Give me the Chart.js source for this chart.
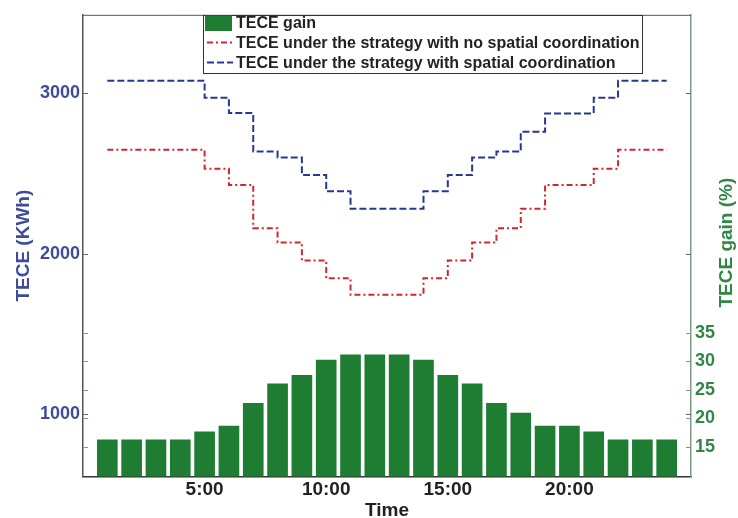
<!DOCTYPE html>
<html>
<head>
<meta charset="utf-8">
<title>TECE</title>
<script src="https://cdn.jsdelivr.net/npm/chart.js@4.4.1/dist/chart.umd.min.js"></script>
<style>
  html, body { margin: 0; padding: 0; background: #fff; }
  #wrap { width: 738px; height: 518px; position: relative; }
</style>
</head>
<body>
<div id="wrap"><canvas id="teceChart"></canvas></div>
<script>
// values (hour of day 1..24)
const hours = [1, 2, 3, 4, 5, 6, 7, 8, 9, 10, 11, 12, 13, 14, 15, 16, 17, 18, 19, 20, 21, 22, 23, 24];
const gainPct = [16.3, 16.3, 16.3, 16.3, 17.7, 18.7, 22.7, 26.1, 27.6, 30.3, 31.2, 31.2,
                 31.2, 30.3, 27.6, 26.1, 22.7, 21.0, 18.7, 18.7, 17.7, 16.3, 16.3, 16.3];
const teceNoCoord = [2648, 2648, 2648, 2648, 2530, 2429, 2158, 2070, 1957, 1846, 1744, 1744,
                     1744, 1846, 1957, 2070, 2158, 2280, 2429, 2429, 2530, 2648, 2648, 2648];
const teceCoord = [3078, 3078, 3078, 3078, 2973, 2878, 2637, 2600, 2490, 2390, 2280, 2280,
                   2280, 2390, 2490, 2600, 2637, 2760, 2875, 2875, 2973, 3078, 3078, 3078];
const timeTicks = [5, 10, 15, 20];
const kwhTicks = [1000, 2000, 3000];
const gainTicks = [15, 20, 25, 30, 35];

const FONT = "'Liberation Sans', Arial, sans-serif";
const BLUE_TXT = '#3e4c9b';
const GREEN_TXT = '#328746';

const toPoints = vals => hours.map((h, i) => ({ x: h, y: vals[i] }));

// frame, inward ticks, right title and the boxed legend (MATLAB look)
const matlabDecor = {
    id: 'matlabDecor',
    afterDraw(chart) {
        const { ctx, chartArea: a, scales } = chart;
        ctx.save();

        // top edge of the box
        ctx.strokeStyle = '#555';
        ctx.lineWidth = 1;
        ctx.beginPath();
        ctx.moveTo(a.left, a.top + 0.5);
        ctx.lineTo(a.right, a.top + 0.5);
        ctx.stroke();

        // inward ticks, both sides, for both y scales
        const tickLen = 5;
        const drawTicks = (scale, values, color) => {
            ctx.strokeStyle = color;
            values.forEach(v => {
                const y = Math.round(scale.getPixelForValue(v)) + 0.5;
                ctx.beginPath();
                ctx.moveTo(a.left, y); ctx.lineTo(a.left + tickLen, y);
                ctx.moveTo(a.right, y); ctx.lineTo(a.right - tickLen, y);
                ctx.stroke();
            });
        };
        drawTicks(scales.y, kwhTicks, '#666');
        drawTicks(scales.y1, gainTicks, '#7c9a86');

        // right axis title, reading bottom-to-top like the left one
        ctx.fillStyle = GREEN_TXT;
        ctx.font = 'bold 19px ' + FONT;
        ctx.textAlign = 'center';
        ctx.textBaseline = 'middle';
        ctx.translate(727, (a.top + a.bottom) / 2 - 3);
        ctx.rotate(-Math.PI / 2);
        ctx.fillText('TECE gain (%)', 0, 0);
        ctx.setTransform(1, 0, 0, 1, 0, 0);

        // legend box
        const bx1 = 203, bx2 = 642, by1 = Math.round(a.top), by2 = 73;
        ctx.fillStyle = '#fff';
        ctx.fillRect(bx1, by1, bx2 - bx1, by2 - by1);
        ctx.strokeStyle = '#333';
        ctx.strokeRect(bx1 + 0.5, by1 + 0.5, bx2 - bx1, by2 - by1);

        const rows = [23, 42.5, 62.5];
        ctx.textAlign = 'left';
        ctx.font = 'bold 16px ' + FONT;
        chart.data.datasets.forEach((ds, i) => {
            const y = rows[i];
            if (ds.type === 'line') {
                ctx.strokeStyle = ds.borderColor;
                ctx.lineWidth = 2;
                ctx.setLineDash(ds.borderDash);
                ctx.beginPath();
                ctx.moveTo(207, y); ctx.lineTo(233, y);
                ctx.stroke();
                ctx.setLineDash([]);
            } else {
                ctx.fillStyle = ds.backgroundColor;
                ctx.fillRect(205, y - 7.5, 27, 15.5);
            }
            ctx.fillStyle = '#222';
            ctx.fillText(ds.label, 236, y + 1);
        });
        ctx.restore();
    }
};

new Chart(document.getElementById('teceChart'), {
    type: 'bar',
    data: {
        datasets: [{
            label: 'TECE gain',
            data: toPoints(gainPct),
            yAxisID: 'y1',
            backgroundColor: '#1f7d33',
            borderWidth: 0,
            barPercentage: 0.85,
            categoryPercentage: 1.0
        }, {
            type: 'line',
            label: 'TECE under the strategy with no spatial coordination',
            data: toPoints(teceNoCoord),
            yAxisID: 'y',
            borderColor: '#d0262e',
            borderWidth: 2,
            borderDash: [6, 3, 2, 3],
            stepped: true,
            pointRadius: 0,
            fill: false
        }, {
            type: 'line',
            label: 'TECE under the strategy with spatial coordination',
            data: toPoints(teceCoord),
            yAxisID: 'y',
            borderColor: '#283891',
            borderWidth: 2,
            borderDash: [7, 3],
            stepped: true,
            pointRadius: 0,
            fill: false
        }]
    },
    options: {
        responsive: true,
        maintainAspectRatio: false,
        animation: false,
        layout: { padding: { top: 10, left: 0, right: 0, bottom: 0 } },
        plugins: {
            legend: { display: false },
            tooltip: { enabled: false }
        },
        scales: {
            x: {
                type: 'linear',
                offset: false,
                min: 0,
                max: 25,
                afterBuildTicks: s => { s.ticks = timeTicks.map(v => ({ value: v })); },
                afterFit: s => { s.height = 41.5; },
                grid: { display: false, drawTicks: false },
                border: { display: true, color: '#333', width: 1.5 },
                ticks: {
                    padding: 2,
                    maxRotation: 0,
                    color: '#222',
                    font: { family: FONT, size: 19, weight: 'bold' },
                    callback: v => v + ':00'
                },
                title: {
                    display: true,
                    text: 'Time',
                    color: '#222',
                    font: { family: FONT, size: 19, weight: 'bold' },
                    padding: { top: 0, bottom: -4 }
                }
            },
            y: {
                position: 'left',
                min: 610,
                max: 3490,
                afterBuildTicks: s => { s.ticks = kwhTicks.map(v => ({ value: v })); },
                afterFit: s => { s.width = 83; },
                grid: { display: false, drawTicks: false },
                border: { display: true, color: '#555', width: 1.5 },
                ticks: {
                    padding: 3,
                    color: BLUE_TXT,
                    font: { family: FONT, size: 18, weight: 'bold' },
                    callback: v => String(v)
                },
                title: {
                    display: true,
                    text: 'TECE (KWh)',
                    color: BLUE_TXT,
                    font: { family: FONT, size: 19, weight: 'bold' },
                    padding: { top: 12, bottom: 0 }
                }
            },
            y1: {
                position: 'right',
                min: 9.8,
                max: 90.8,
                afterBuildTicks: s => { s.ticks = gainTicks.map(v => ({ value: v })); },
                afterFit: s => { s.width = 47; },
                grid: { display: false, drawTicks: false },
                border: { display: true, color: '#7c9a86', width: 1.5 },
                ticks: {
                    padding: 4,
                    color: GREEN_TXT,
                    font: { family: FONT, size: 18, weight: 'bold' },
                    callback: v => String(v)
                }
            }
        }
    },
    plugins: [matlabDecor]
});
</script>
</body>
</html>
